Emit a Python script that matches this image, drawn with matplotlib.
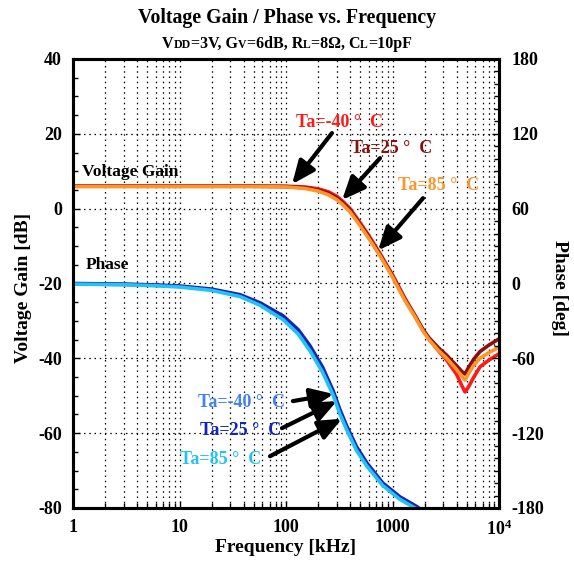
import numpy as np
import matplotlib.pyplot as plt
from matplotlib.ticker import MultipleLocator, LogLocator, NullFormatter

plt.rcParams['font.family'] = ['Liberation Serif', 'DejaVu Serif']
plt.rcParams['font.weight'] = 'bold'
plt.rcParams['axes.labelweight'] = 'bold'
plt.rcParams['axes.unicode_minus'] = False
plt.rcParams['mathtext.fontset'] = 'custom'
plt.rcParams['mathtext.bf'] = 'Liberation Serif:bold'
plt.rcParams['mathtext.rm'] = 'Liberation Serif:bold'

# gain vs frequency (kHz, dB)
freq_gain = [1, 10, 50, 100, 150, 200, 250, 300, 343, 400, 500, 600, 763, 1000,
             1310, 1600, 1930, 2200, 2700, 3230, 4000, 4470, 4800, 5200, 5800,
             6620, 8000, 9600, 10000]
gain_m40 = [6.0, 6.0, 6.0, 6.0, 5.8, 5.3, 4.5, 3.3, 1.9, 0.0, -3.9, -7.2, -12.0,
            -17.7, -24.0, -28.2, -32.3, -34.8, -38.0, -40.5, -44.3, -47.3, -49.0,
            -47.5, -45.0, -42.3, -40.5, -39.1, -38.8]
gain_25 = [6.0, 6.0, 6.0, 5.9, 5.6, 5.0, 4.1, 2.9, 1.5, -0.4, -4.3, -7.6, -12.3,
           -18.0, -24.3, -28.3, -32.3, -34.5, -37.2, -39.2, -42.0, -43.5, -44.2,
           -42.3, -40.2, -38.2, -36.5, -35.1, -34.8]
gain_85 = [5.9, 5.9, 5.9, 5.8, 5.4, 4.7, 3.7, 2.4, 1.0, -0.9, -4.7, -8.0, -12.6,
           -18.3, -24.6, -28.6, -32.7, -35.0, -37.9, -40.0, -43.0, -44.8, -45.8,
           -44.0, -41.8, -40.0, -38.5, -37.3, -37.0]

# phase vs frequency (kHz, deg)
freq_phase = [1, 3, 6, 10, 20, 37, 57, 94, 130, 168, 220, 277, 320, 370, 460,
              575, 810, 1170, 1700, 2200]
phase_m40 = [-0.3, -0.8, -1.5, -2.4, -5.0, -9.8, -16.5, -27.5, -39.0, -52.0,
             -69.0, -87.5, -102.5, -115.5, -132.5, -145.0, -161.0, -172.0,
             -180.0, -187.0]
phase_25 = [0.0, -0.5, -1.2, -2.0, -4.5, -9.0, -15.5, -26.0, -37.0, -50.0,
            -67.0, -86.0, -101.0, -114.0, -131.0, -144.0, -160.0, -171.0,
            -179.0, -186.0]
phase_85 = [-0.5, -1.0, -1.8, -2.8, -5.5, -10.5, -17.5, -29.0, -40.5, -54.0,
            -71.0, -89.5, -104.5, -117.0, -134.0, -146.5, -162.0, -173.0,
            -181.0, -188.0]

gain_colors = {'-40': '#ff1a1a', '25': '#8b0f0f', '85': '#ff9428'}
phase_colors = {'-40': '#3f82f2', '25': '#1424b8', '85': '#22c2f4'}

fig = plt.figure(figsize=(5.74, 5.65), dpi=100)
ax = fig.add_axes([0.1272, 0.1009, 0.7422, 0.7947])
ax2 = ax.twinx()

ax.plot(freq_gain, gain_m40, color=gain_colors['-40'], lw=2.6)
ax.plot(freq_gain, gain_25, color=gain_colors['25'], lw=2.6)
ax.plot(freq_gain, gain_85, color=gain_colors['85'], lw=2.6)

ax2.plot(freq_phase, phase_m40, color=phase_colors['-40'], lw=2.6)
ax2.plot(freq_phase, phase_25, color=phase_colors['25'], lw=2.6)
ax2.plot(freq_phase, phase_85, color=phase_colors['85'], lw=2.6)

ax.set_xscale('log')
ax.set_xlim(1, 1e4)
ax.set_ylim(-80, 40)
ax2.set_ylim(-180, 180)

ax.set_xticks([1, 10, 100, 1000, 10000])
ax.set_xticklabels(['1', '10', '100', '1000', r'$\mathbf{10^{4}}$'])
ax.xaxis.set_minor_locator(LogLocator(base=10, subs=np.arange(2, 10)))
ax.xaxis.set_minor_formatter(NullFormatter())
ax.yaxis.set_major_locator(MultipleLocator(20))
ax.yaxis.set_minor_locator(MultipleLocator(5))
ax2.yaxis.set_major_locator(MultipleLocator(60))
ax2.yaxis.set_minor_locator(MultipleLocator(10))

dots = (0, (1.2, 3.0))
ax.grid(which='both', axis='x', color='k', lw=0.9, ls=dots)
ax.grid(which='major', axis='y', color='k', lw=0.9, ls=dots)

ax.tick_params(which='both', direction='in', labelsize=13, top=False, right=False)
ax.tick_params(which='major', length=5, width=1)
ax.tick_params(which='minor', length=3.5, width=1)
ax.tick_params(axis='x', pad=8)
ax.tick_params(axis='y', pad=8)
ax2.tick_params(which='both', direction='in', labelsize=13, pad=9)
ax2.tick_params(which='major', length=5, width=1)
ax2.tick_params(which='minor', length=3.5, width=1)
for a in (ax, ax2):
    for sp in a.spines.values():
        sp.set_linewidth(2.2)
    for lab in a.get_xticklabels() + a.get_yticklabels():
        lab.set_fontweight('bold')

ax.set_xlabel('Frequency [kHz]', fontsize=14, fontweight='bold', va='center')
ax.xaxis.set_label_coords(0.5, -0.089)
ax.set_ylabel('Voltage Gain [dB]', fontsize=14, fontweight='bold', va='center')
ax.yaxis.set_label_coords(-0.117, 0.49)
ax2.set_ylabel('Phase [deg]', fontsize=14, fontweight='bold', rotation=270, va='center')
ax2.yaxis.set_label_coords(1.143, 0.49)

ax.text(1.22, 9.8, 'Voltage Gain', fontsize=12.5, fontweight='bold', va='center', ha='left')
ax.text(1.32, -15.1, 'Phase', fontsize=12.5, fontweight='bold', va='center', ha='left')


def on_curve(f, xs, ys):
    return np.interp(np.log10(f), np.log10(xs), ys)


arrow = dict(arrowstyle='-|>,head_length=0.7,head_width=0.3', color='k', lw=3,
             shrinkA=0, shrinkB=0, mutation_scale=20)

# gain labels
gain_notes = [('Ta=-40 °  C', gain_colors['-40'], (321, 22.9), (270, 20.2), 114, gain_m40),
              ('Ta=25 °  C', gain_colors['25'], (989, 16.2), (763, 13.5), 336, gain_25),
              ('Ta=85 °  C', gain_colors['85'], (2733, 6.3), (1933, 2.8), 731, gain_85)]
for label, c, tpos, tail, ftip, ys in gain_notes:
    ax.text(*tpos, label, color=c, fontsize=13, fontweight='bold', ha='center', va='center')
    ax.annotate('', xy=(ftip, on_curve(ftip, freq_gain, ys) + 0.6), xytext=tail,
                arrowprops=arrow)

# phase labels
phase_notes = [('Ta=-40 °  C', phase_colors['-40'], (37.8, -51.7), (116, -94.3), 280, phase_m40),
               ('Ta=25 °  C', phase_colors['25'], (37.8, -59.2), (91.6, -116), 300, phase_25),
               ('Ta=85 °  C', phase_colors['85'], (24.5, -67.0), (70.7, -138.5), 335, phase_85)]
for label, c, tpos, tail, ftip, ys in phase_notes:
    ax.text(*tpos, label, color=c, fontsize=13, fontweight='bold', ha='center', va='center')
    ax2.annotate('', xy=(ftip, on_curve(ftip, freq_phase, ys)), xytext=tail,
                 arrowprops=arrow)

fig.text(0.5, 1 - 18 / 565, 'Voltage Gain / Phase vs. Frequency', fontsize=14.3,
         fontweight='bold', ha='center', va='center')

# subtitle with small-caps style subscripts
pieces = [('V', 11.5), ('DD', 8.5), ('=3V, G', 11.5), ('V', 8.5), ('=6dB, R', 11.5),
          ('L', 8.5), ('=8Ω, C', 11.5), ('L', 8.5), ('=10pF', 11.5)]
renderer = fig.canvas.get_renderer()
objs = [fig.text(0, 1 - 48 / 565, s, fontsize=sz, fontweight='bold', ha='left',
                 va='baseline') for s, sz in pieces]
widths = [t.get_window_extent(renderer).width for t in objs]
W = fig.bbox.width
x = (W - sum(widths)) / 2
for t, w in zip(objs, widths):
    t.set_x(x / W)
    x += w

fig.savefig('out.png', dpi=100)
